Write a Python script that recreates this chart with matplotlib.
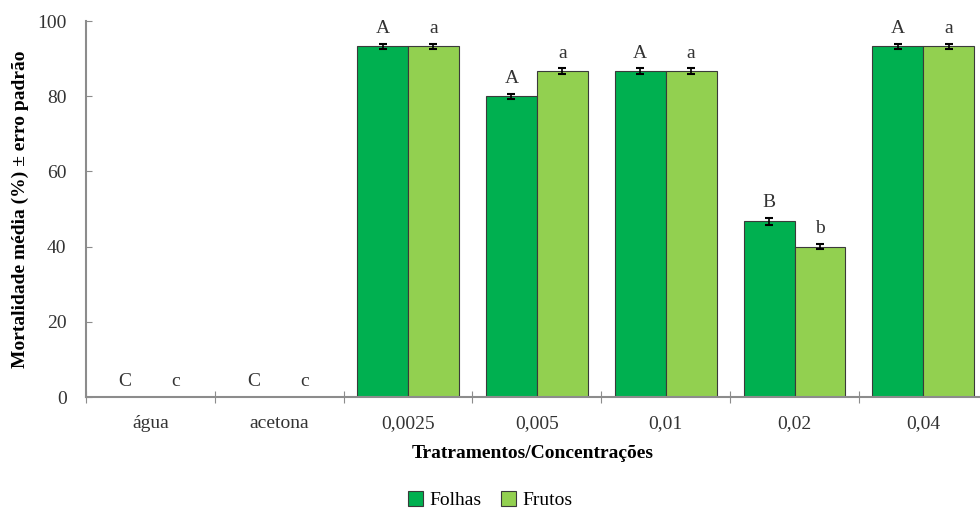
import numpy as np
import matplotlib.pyplot as plt

plt.rcParams['font.family'] = ['Liberation Serif', 'DejaVu Serif']

# --- dados ---
categorias = ['água', 'acetona', '0,0025', '0,005', '0,01', '0,02', '0,04']
folhas = [0, 0, 93.3, 80.0, 86.7, 46.7, 93.3]
frutos = [0, 0, 93.3, 86.7, 86.7, 40.0, 93.3]
erro_folhas = [0, 0, 0.67, 0.67, 0.67, 0.9, 0.67]
erro_frutos = [0, 0, 0.67, 0.67, 0.67, 0.67, 0.67]
letras_folhas = ['C', 'C', 'A', 'A', 'A', 'B', 'A']
letras_frutos = ['c', 'c', 'a', 'a', 'a', 'b', 'a']

cor_folhas = '#00B050'
cor_frutos = '#92D050'
cinza = '#8c8c8c'

x = np.arange(len(categorias))
largura = 0.395

fig = plt.figure(figsize=(9.8, 5.09), dpi=100)
ax = fig.add_axes([86/980, 112/509, 894/980, 376/509])

ax.bar(x - largura/2, folhas, largura, color=cor_folhas, edgecolor='#3a3a3a', linewidth=0.8, label='Folhas')
ax.bar(x + largura/2, frutos, largura, color=cor_frutos, edgecolor='#3a3a3a', linewidth=0.8, label='Frutos')

# barras de erro só onde existe erro
err_kw = dict(fmt='none', ecolor='black', capsize=3, elinewidth=1.2, capthick=1.5)
for desl, vals, errs in [(-largura/2, folhas, erro_folhas), (largura/2, frutos, erro_frutos)]:
    vals = np.array(vals)
    errs = np.array(errs)
    m = errs > 0
    ax.errorbar(x[m] + desl, vals[m], yerr=errs[m], **err_kw)

# letras acima das barras
for i in range(len(categorias)):
    ax.text(x[i] - largura/2, folhas[i] + erro_folhas[i] + 1.8, letras_folhas[i],
            ha='center', va='bottom', fontsize=14, color='#333333')
    ax.text(x[i] + largura/2, frutos[i] + erro_frutos[i] + 1.8, letras_frutos[i],
            ha='center', va='bottom', fontsize=14, color='#333333')

ax.set_xlim(-0.5, 6.44)
ax.set_ylim(0, 100)
ax.set_yticks([0, 20, 40, 60, 80, 100])
ax.tick_params(axis='y', direction='in', length=4, color=cinza, labelsize=14, labelcolor='#333333', pad=14)

# marcas do eixo x nas fronteiras das categorias
ax.set_xticks(np.arange(-0.5, 6.5, 1.0))
ax.set_xticklabels([])
ax.set_xticks(x, minor=True)
ax.set_xticklabels(categorias, minor=True)
ax.tick_params(axis='x', which='major', direction='inout', length=9, color=cinza)
ax.tick_params(axis='x', which='minor', length=0, labelsize=14, labelcolor='#333333', pad=13)

for s in ['top', 'right']:
    ax.spines[s].set_visible(False)
for s in ['left', 'bottom']:
    ax.spines[s].set_color(cinza)
    ax.spines[s].set_linewidth(1.5)

ax.set_xlabel('Tratramentos/Concentrações', fontsize=14, fontweight='bold', labelpad=9)
ax.set_ylabel('Mortalidade média (%) ± erro padrão', fontsize=14, fontweight='bold', labelpad=6)

fig.legend(loc='lower center', bbox_to_anchor=(0.5, -0.035), ncol=2, frameon=False,
           fontsize=14, handlelength=0.8, handleheight=0.8, handletextpad=0.3, columnspacing=1.0)

fig.savefig('out.png', dpi=100)
